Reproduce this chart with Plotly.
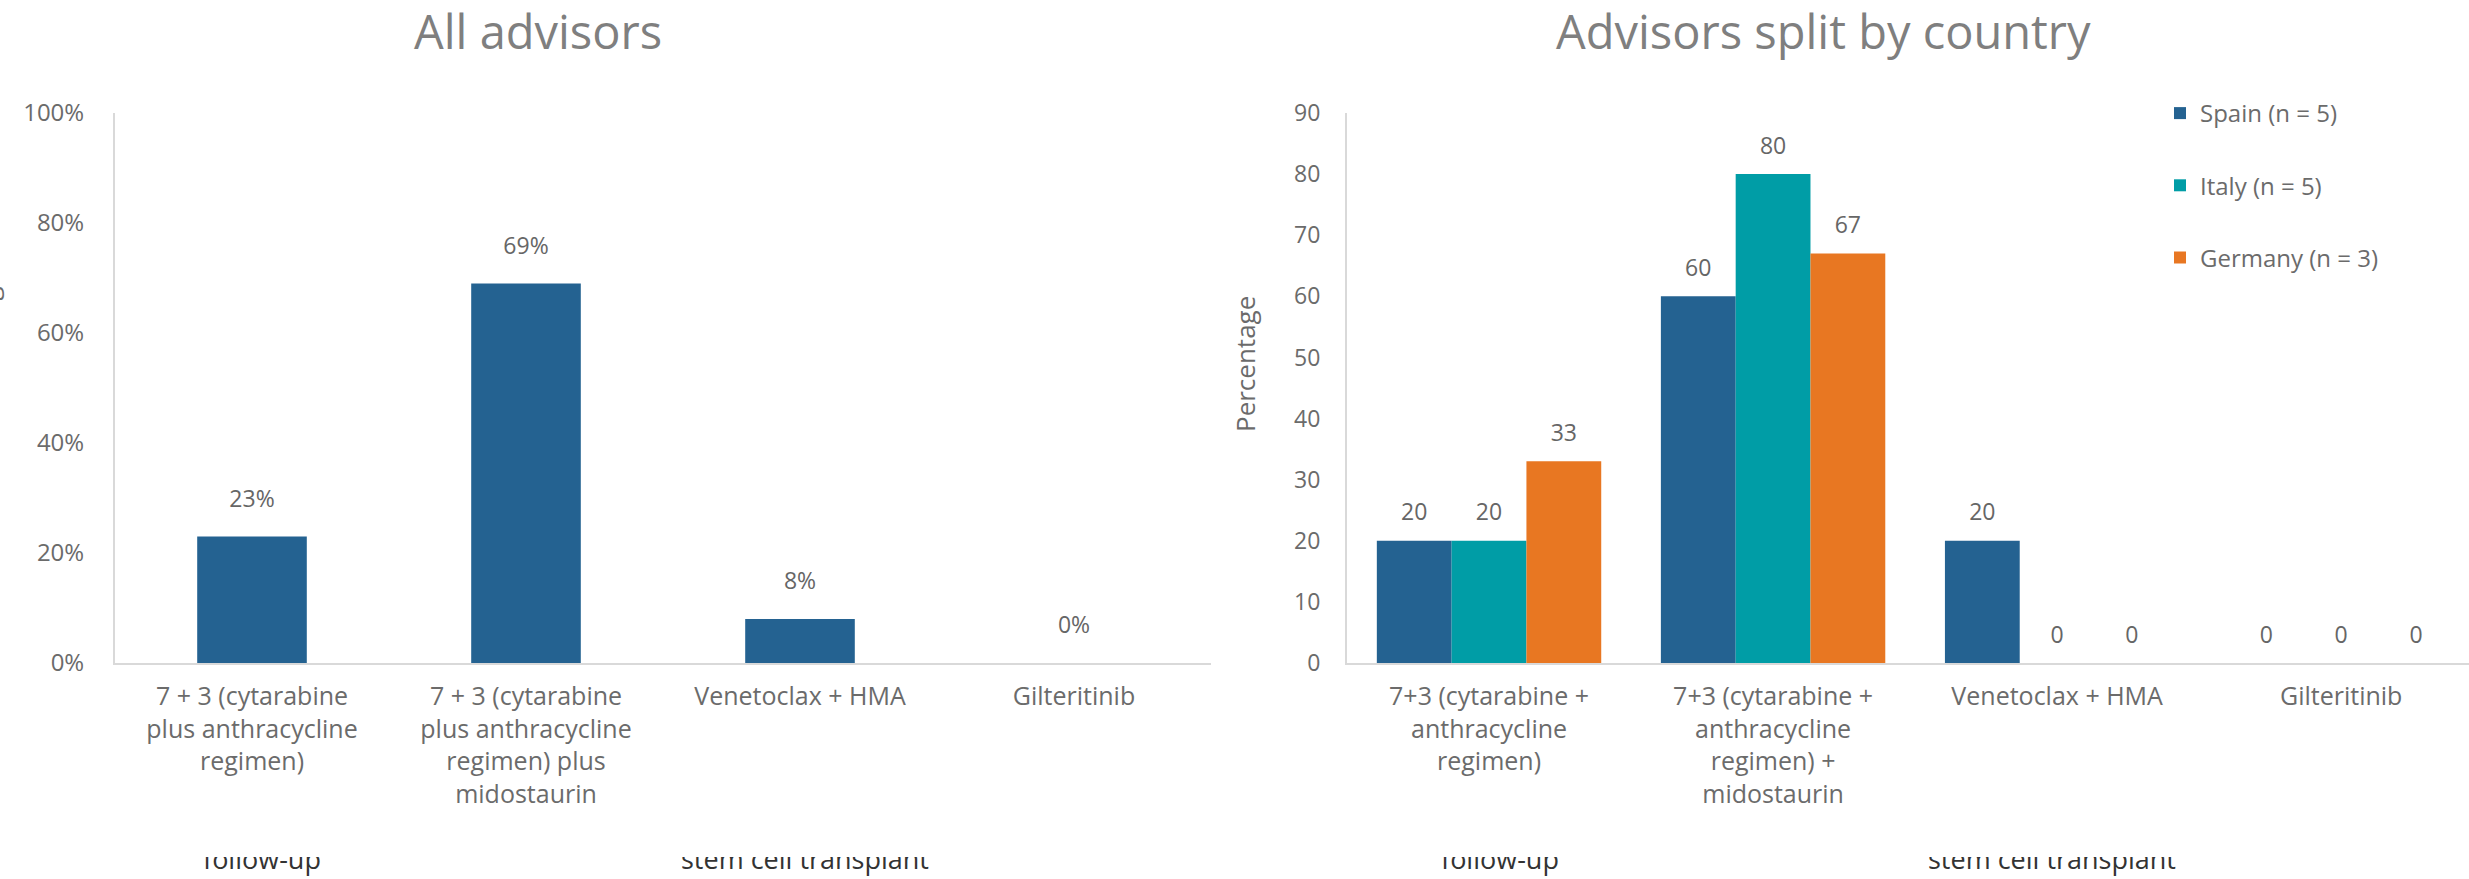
import plotly.graph_objects as go

W, H = 2469, 879

# ---------------- data ----------------
categories_all = [
    "7 + 3 (cytarabine<br>plus anthracycline<br>regimen)",
    "7 + 3 (cytarabine<br>plus anthracycline<br>regimen) plus<br>midostaurin",
    "Venetoclax + HMA",
    "Gilteritinib",
]
values_all = [23, 69, 8, 0]

categories_country = [
    "7+3 (cytarabine +<br>anthracycline<br>regimen)",
    "7+3 (cytarabine +<br>anthracycline<br>regimen) +<br>midostaurin",
    "Venetoclax + HMA",
    "Gilteritinib",
]
spain = [20, 60, 20, 0]
italy = [20, 80, 0, 0]
germany = [33, 67, 0, 0]
series_names = ["Spain (n = 5)", "Italy (n = 5)", "Germany (n = 3)"]
series_colors = ["#246291", "#009DA6", "#E87722"]

left_ticks = [0, 20, 40, 60, 80, 100]
left_ticktext = ["0%", "20%", "40%", "60%", "80%", "100%"]
right_ticks = [0, 10, 20, 30, 40, 50, 60, 70, 80, 90]

footer_texts = ["follow-up", "stem cell transplant", "follow-up", "stem cell transplant"]
footer_x_px = [262, 805, 1500, 2052]

# ---------------- styling ----------------
FONT = "Open Sans, Arial, sans-serif"
GREY = "#7f7f7f"
TICK = "#6b6b6b"
AXIS = "#d9d9d9"
LABEL_LIFT_LEFT = 3.6    # gap (in data units) between bar top and its value label
LABEL_LIFT_RIGHT = 1.7

def px_x(p):
    return p / W

def px_y(p):
    return 1 - p / H

y_dom = [px_y(663), px_y(113)]
left_dom = [px_x(115), px_x(1211)]
right_dom = [px_x(1347), 1.0]

fig = go.Figure()

# left subplot: bars + invisible spacer bars carrying the value labels
fig.add_trace(go.Bar(
    x=categories_all, y=values_all, width=0.4, offsetgroup="all",
    marker=dict(color=series_colors[0], line=dict(width=0)),
    showlegend=False, xaxis="x", yaxis="y", hoverinfo="skip",
))
fig.add_trace(go.Bar(
    x=categories_all, y=[LABEL_LIFT_LEFT] * len(values_all), base=values_all,
    width=0.4, offsetgroup="all",
    marker=dict(color="rgba(0,0,0,0)", line=dict(width=0)),
    text=[f"{v}%" for v in values_all], textposition="outside",
    textfont=dict(size=23, color="#666666", family=FONT),
    cliponaxis=False, showlegend=False, xaxis="x", yaxis="y", hoverinfo="skip",
))

# right subplot
for name, vals, col in zip(series_names, [spain, italy, germany], series_colors):
    fig.add_trace(go.Bar(
        x=categories_country, y=vals, name=name, legendgroup=name, offsetgroup=name,
        marker=dict(color=col, line=dict(width=0)),
        xaxis="x2", yaxis="y2",
    ))
for name, vals in zip(series_names, [spain, italy, germany]):
    fig.add_trace(go.Bar(
        x=categories_country, y=[LABEL_LIFT_RIGHT] * len(vals), base=vals,
        offsetgroup=name, legendgroup=name, showlegend=False,
        marker=dict(color="rgba(0,0,0,0)", line=dict(width=0)),
        text=[str(v) for v in vals], textposition="outside",
        textfont=dict(size=23, color="#666666", family=FONT),
        cliponaxis=False, xaxis="x2", yaxis="y2", hoverinfo="skip",
    ))

# clipped footer text (only lower part visible at bottom edge)
fig.add_trace(go.Scatter(
    x=footer_x_px, y=[0.75] * len(footer_x_px), mode="text", text=footer_texts,
    textposition="middle center", textfont=dict(size=27, color="#333333", family=FONT),
    cliponaxis=True, showlegend=False, hoverinfo="skip", xaxis="x3", yaxis="y3",
))

ax_common = dict(showgrid=False, zeroline=False, showline=True, linecolor=AXIS, linewidth=2,
                 ticks="", automargin=False)

fig.update_layout(
    template="none",
    width=W, height=H,
    margin=dict(l=0, r=0, t=0, b=0, pad=0, autoexpand=False),
    paper_bgcolor="white", plot_bgcolor="white",
    font=dict(family=FONT, color=GREY),
    barmode="group", bargap=0.21, bargroupgap=0,
    xaxis=dict(domain=left_dom, anchor="y", ticklabelstandoff=10,
               tickfont=dict(size=25, color=TICK, family=FONT), **ax_common),
    yaxis=dict(domain=y_dom, anchor="x", range=[0, 100], tickvals=left_ticks,
               ticktext=left_ticktext, ticklabelstandoff=24,
               tickfont=dict(size=24, color=TICK, family=FONT), **ax_common),
    xaxis2=dict(domain=right_dom, anchor="y2", range=[-0.5, 3.45], ticklabelstandoff=10,
                tickfont=dict(size=25, color=TICK, family=FONT), **ax_common),
    yaxis2=dict(domain=y_dom, anchor="x2", range=[0, 90], tickvals=right_ticks,
                ticklabelstandoff=20,
                tickfont=dict(size=23, color=TICK, family=FONT), **ax_common),
    xaxis3=dict(domain=[0, 1], anchor="y3", range=[0, W], visible=False, automargin=False),
    yaxis3=dict(domain=[0, px_y(857)], anchor="x3", range=[0, 1], visible=False, automargin=False),
    legend=dict(x=px_x(2160), y=px_y(91), xanchor="left", yanchor="top",
                font=dict(size=24, color=TICK, family=FONT),
                tracegroupgap=38, traceorder="grouped", bgcolor="rgba(0,0,0,0)",
                borderwidth=0),
    annotations=[
        dict(text="All advisors", x=px_x(538), y=px_y(31), xref="paper", yref="paper",
             showarrow=False, xanchor="center", yanchor="middle",
             font=dict(size=47, color=GREY, family=FONT)),
        dict(text="Advisors split by country", x=px_x(1823), y=px_y(31), xref="paper", yref="paper",
             showarrow=False, xanchor="center", yanchor="middle",
             font=dict(size=47, color=GREY, family=FONT)),
        dict(text="Percentage", x=px_x(1245), y=px_y(364), xref="paper", yref="paper",
             showarrow=False, textangle=-90, xanchor="center", yanchor="middle",
             font=dict(size=26, color=TICK, family=FONT)),
        dict(text="Percentage", x=px_x(-12), y=px_y(340), xref="paper", yref="paper",
             showarrow=False, textangle=-90, xanchor="center", yanchor="middle",
             font=dict(size=26, color=TICK, family=FONT)),
    ],
)

fig.write_html("out.html")
